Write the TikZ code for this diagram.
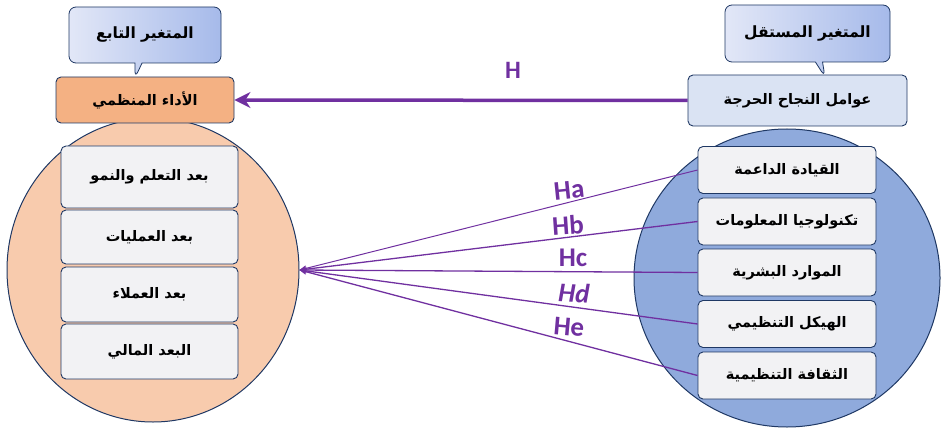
\documentclass[tikz,border=0pt]{standalone}
\usepackage{fontspec}
\setmainfont{Carlito}
\newfontfamily\arabicfont[Script=Arabic]{DejaVu Sans}
\TeXXeTstate=1
\usetikzlibrary{arrows.meta,shapes.geometric,shapes.callouts}
\definecolor{navyline}{HTML}{1F3864}
\definecolor{hpurple}{HTML}{7030A0}
\definecolor{depfill}{HTML}{F8CBAD}
\definecolor{deptop}{HTML}{F4B183}
\definecolor{indfill}{HTML}{8FAADC}
\definecolor{indtop}{HTML}{DAE3F3}
\definecolor{boxgray}{HTML}{F2F2F4}
\definecolor{calloutA}{HTML}{E2E7F7}
\definecolor{calloutB}{HTML}{A6BAEA}
\newcommand{\artext}[1]{\beginR #1\endR}

\begin{document}
\begin{tikzpicture}[x=1pt,y=-1pt,
  arfont/.style={font=\arabicfont\bfseries\fontsize{14.5}{16}\selectfont},
  circ/.style={ellipse, draw=navyline, line width=1pt},
  dimbox/.style={arfont, draw=navyline, line width=0.9pt, rounded corners=5pt, fill=boxgray, minimum width=177pt},
  topbox/.style={arfont, draw=navyline, line width=0.9pt, rounded corners=5pt, minimum height=47pt},
  varcallout/.style={rectangle callout, arfont, draw=navyline, line width=0.8pt, rounded corners=7pt, left color=calloutA, right color=calloutB},
  hyp/.style={draw=hpurple, line width=1.3pt, -{Stealth[length=7pt,width=6pt]}},
  hlabel/.style={text=hpurple, font=\bfseries\fontsize{27}{29}\selectfont}]
\useasboundingbox (0,0) rectangle (941,430);
% the two circles
\node[circ, fill=depfill, minimum width=292pt, minimum height=304pt] (depcirc) at (153,270) {};
\node[circ, fill=indfill, minimum width=306pt, minimum height=298pt] (indcirc) at (787,278) {};
% dimensions of the dependent variable
\foreach \n/\y/\h/\t in {1/177/62/{بعد التعلم والنمو}, 2/237/54/{بعد العمليات}, 3/294.5/55/{بعد العملاء}, 4/351.5/55/{البعد المالي}} {
  \node[dimbox, minimum height=\h pt] (dim\n) at (149.5,\y) {\artext{\t}}; }
% factors of the independent variable
\foreach \n/\y/\t in {1/170/{القيادة الداعمة}, 2/221.5/{تكنولوجيا المعلومات}, 3/272.5/{الموارد البشرية}, 4/324/{الهيكل التنظيمي}, 5/375.5/{الثقافة التنظيمية}} {
  \node[dimbox, minimum width=178pt, minimum height=47pt] (fac\n) at (787,\y) {\artext{\t}}; }
% callouts and top boxes
\node[varcallout, font=\arabicfont\bfseries\fontsize{15.5}{17}\selectfont, minimum width=152pt, minimum height=56pt, callout absolute pointer={(135,78)}] (depcall) at (145,35) {\artext{المتغير التابع}};
\node[varcallout, font=\arabicfont\bfseries\fontsize{15.5}{17}\selectfont, minimum width=165pt, minimum height=57pt, callout absolute pointer={(825,77)}] (indcall) at (807.5,33.5) {\artext{المتغير المستقل}};
\node[topbox, fill=deptop, minimum width=178pt, minimum height=46pt] (deptopbox) at (145,100) {\artext{الأداء المنظمي}};
\node[topbox, fill=indtop, minimum width=219pt, minimum height=51pt] (indtopbox) at (797.5,100.5) {\artext{عوامل النجاح الحرجة}};
% main hypothesis
\draw[draw=hpurple, line width=3.5pt, -{Stealth[length=16pt,width=16pt]}] (indtopbox.west) -- (deptopbox.east);
\node[hlabel, font=\bfseries\fontsize{25}{27}\selectfont] (hmain) at (513,70) {H};
% sub hypotheses
\draw[hyp, line width=1pt] (fac1.west) -- (depcirc.east);
\foreach \n in {2,...,5} { \draw[hyp] (fac\n.west) -- (depcirc.east); }
\node[hlabel, rotate=6] (ha) at (569,190) {Ha};
\node[hlabel, rotate=4] (hb) at (568,225) {Hb};
\node[hlabel] (hc) at (573,258) {Hc};
\node[hlabel, rotate=-3, font=\bfseries\itshape\fontsize{27}{29}\selectfont] (hd) at (574,293) {Hd};
\node[hlabel, rotate=-5] (he) at (569,327) {He};
\end{tikzpicture}
\end{document}
